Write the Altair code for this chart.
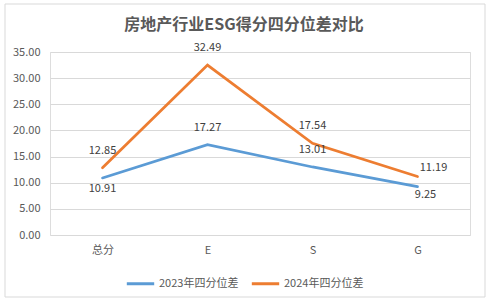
import altair as alt
import pandas as pd

categories = ["总分", "E", "S", "G"]
series_names = ["2023年四分位差", "2024年四分位差"]
v2023 = [10.91, 17.27, 13.01, 9.25]
v2024 = [12.85, 32.49, 17.54, 11.19]
# label placement relative to point (named positions)
pos2023 = ["below", "above", "above", "below-right"]
pos2024 = ["above", "above", "above", "above-right"]
y_ticks = [0, 5, 10, 15, 20, 25, 30, 35]
colors = ["#5B9BD5", "#ED7D31"]
title_text = "房地产行业ESG得分四分位差对比"

rows = []
for name, vals, poss in [(series_names[0], v2023, pos2023), (series_names[1], v2024, pos2024)]:
    for c, v, p in zip(categories, vals, poss):
        rows.append({"cat": c, "series": name, "value": v, "pos": p, "label": f"{v:.2f}"})
df = pd.DataFrame(rows)

FONT = "Noto Sans CJK SC"
W, H = 420, 183

x_enc = alt.X("cat:N", sort=categories, title=None,
              axis=alt.Axis(labelAngle=0, domain=False, ticks=False, labelPadding=9,
                            labelFontSize=11, labelColor="#595959", labelFont=FONT),
              scale=alt.Scale(paddingInner=0, paddingOuter=0.5))
y_enc = alt.Y("value:Q", title=None,
              scale=alt.Scale(domain=[0, 35], nice=False),
              axis=alt.Axis(values=y_ticks, format=".2f",
                            domain=False, ticks=False, labelPadding=10, labelOverlap=False,
                            labelFontSize=11, labelColor="#595959", labelFont=FONT,
                            gridColor="#D9D9D9", gridWidth=1))

base = alt.Chart(df)

lines = base.mark_line(strokeWidth=2.75, strokeCap="round", strokeJoin="miter").encode(
    x=x_enc, y=y_enc,
    color=alt.Color("series:N", sort=series_names,
                    scale=alt.Scale(domain=series_names, range=colors),
                    legend=alt.Legend(title=None, orient="none", direction="horizontal",
                                      legendX=75, legendY=216,
                                      symbolType="stroke", symbolStrokeWidth=3, symbolSize=750,
                                      labelFontSize=11, labelColor="#595959", labelFont=FONT,
                                      columnPadding=6, labelOffset=3)),
)

offsets = {"above": (0, -17), "below": (0, 11), "below-right": (8, 8), "above-right": (16, -8)}
texts = []
for p, (dx, dy) in offsets.items():
    texts.append(
        base.transform_filter(alt.datum.pos == p).mark_text(
            dx=dx, dy=dy, fontSize=11, color="#404040", font=FONT, baseline="middle"
        ).encode(x=x_enc, y=y_enc, text="label:N")
    )

deco = alt.Data(values=[{"t": title_text}])
frame = alt.Chart(deco).mark_rect(
    fill="transparent", stroke="#D9D9D9", strokeWidth=1, clip=False
).encode(x=alt.value(-45), x2=alt.value(435), y=alt.value(-48), y2=alt.value(245))

title = alt.Chart(deco).mark_text(
    fontSize=16, fontWeight="bold", color="#595959", font=FONT, align="center", baseline="middle"
).encode(x=alt.value(194), y=alt.value(-27), text="t:N")

chart = alt.layer(frame, title, lines, *texts).properties(
    width=W, height=H,
    autosize=alt.AutoSizeParams(type="none"),
    padding={"left": 50, "top": 52, "right": 23, "bottom": 69},
).configure_view(stroke=None).configure(background="white")

chart.save("out.html", embed_options={"renderer": "svg", "actions": False})
